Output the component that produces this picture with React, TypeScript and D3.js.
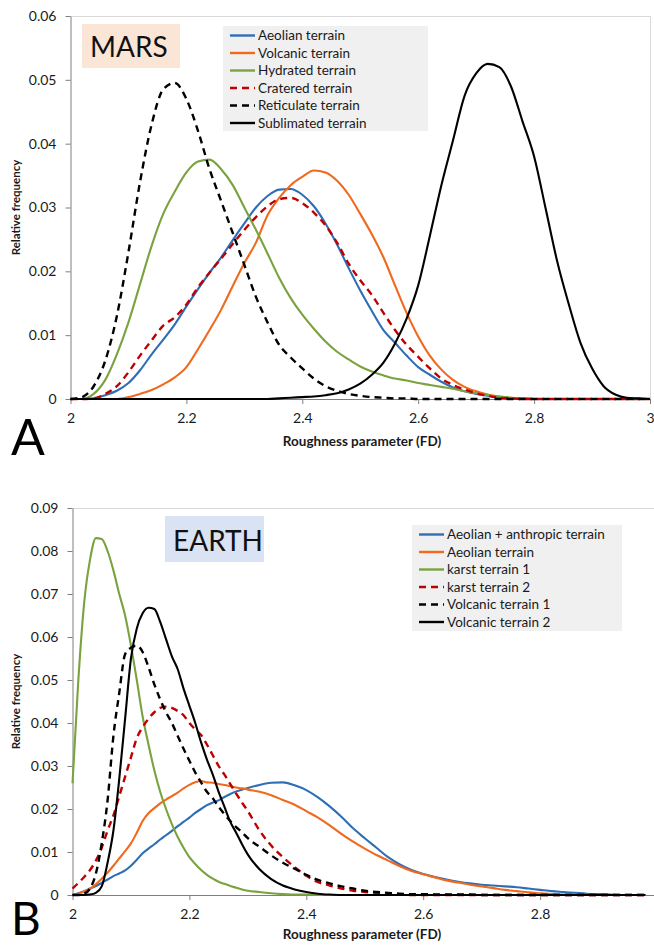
import * as d3 from 'd3';
import { useEffect, useRef } from 'react';

// ---- MARS panel (A) ----
const marsX = [
  2.0, 2.02, 2.04, 2.06, 2.08, 2.1, 2.12, 2.14, 2.16, 2.18,
  2.2, 2.22, 2.24, 2.26, 2.28, 2.3, 2.32, 2.34, 2.36, 2.38,
  2.4, 2.42, 2.44, 2.46, 2.48, 2.5, 2.52, 2.54, 2.56, 2.58,
  2.6, 2.62, 2.64, 2.66, 2.68, 2.7, 2.72, 2.74, 2.76, 2.78,
  2.8, 2.82, 2.84, 2.86, 2.88, 2.9, 2.92, 2.94, 2.96, 2.98,
  3.0,
];
const marsAeolian = [
  0, 0, 0.0001, 0.0006, 0.0013, 0.0025, 0.0045, 0.007, 0.0093, 0.0117,
  0.0145, 0.0172, 0.0198, 0.0222, 0.0249, 0.0275, 0.03, 0.0318, 0.0328, 0.0329,
  0.032, 0.0302, 0.0275, 0.0242, 0.0205, 0.017, 0.0138, 0.0108, 0.0088, 0.0068,
  0.005, 0.0038, 0.0027, 0.0018, 0.0012, 0.0008, 0.0005, 0.0003, 0.0001, 0,
  0, 0, 0, 0, 0, 0, 0, 0, 0, 0,
  0,
];
const marsVolcanic = [
  0, 0, 0, 0, 0, 0.0003, 0.0008, 0.0014, 0.0023, 0.0034,
  0.005, 0.0078, 0.0108, 0.014, 0.0177, 0.0213, 0.0245, 0.0288, 0.0315, 0.0335,
  0.0348, 0.0358, 0.0355, 0.0342, 0.032, 0.029, 0.0258, 0.0222, 0.0178, 0.0135,
  0.0098, 0.0068, 0.0046, 0.003, 0.0019, 0.0012, 0.0007, 0.0004, 0.0002, 0.0001,
  0, 0, 0, 0, 0, 0, 0, 0, 0, 0,
  0,
];
const marsHydrated = [
  0, 0, 0.0008, 0.003, 0.007, 0.012, 0.018, 0.024, 0.029, 0.0325,
  0.0355, 0.0372, 0.0375, 0.036, 0.0335, 0.03, 0.0265, 0.0228, 0.019, 0.0158,
  0.0132, 0.011, 0.009, 0.0074, 0.0062, 0.0051, 0.0043, 0.0037, 0.0032, 0.0029,
  0.0025, 0.0022, 0.0019, 0.0016, 0.0012, 0.0009, 0.0006, 0.0004, 0.0002, 0.0001,
  0, 0, 0, 0, 0, 0, 0, 0, 0, 0,
  0,
];
const marsCratered = [
  0, 0, 0.0001, 0.0008, 0.002, 0.0042, 0.0068, 0.0092, 0.0115, 0.0128,
  0.0148, 0.0175, 0.0198, 0.022, 0.0243, 0.0265, 0.0285, 0.0302, 0.0313, 0.0315,
  0.0307, 0.0292, 0.0272, 0.0245, 0.0212, 0.0186, 0.0163, 0.0135, 0.0108, 0.0085,
  0.0066, 0.0048, 0.0032, 0.0022, 0.0015, 0.0009, 0.0005, 0.0002, 0.0001, 0,
  0, 0, 0, 0, 0, 0, 0, 0, 0, 0,
  0,
];
const marsReticulate = [
  0, 0.0003, 0.002, 0.006, 0.013, 0.023, 0.034, 0.043, 0.0485, 0.0495,
  0.047, 0.042, 0.036, 0.031, 0.026, 0.021, 0.016, 0.012, 0.0085, 0.0065,
  0.0048, 0.0032, 0.002, 0.0013, 0.0008, 0.0005, 0.0003, 0.0002, 0.0001, 0.0001,
  0, 0, 0, 0, 0, 0, 0, 0, 0, 0,
  0, 0, 0, 0, 0, 0, 0, 0, 0, 0,
  0,
];
const marsSublimated = [
  0, 0, 0, 0, 0, 0, 0, 0, 0, 0,
  0, 0, 0, 0, 0, 0, 0, 0, 0.0001, 0.0002,
  0.0003, 0.0004, 0.0006, 0.0009, 0.0015, 0.0024, 0.0038, 0.0057, 0.0087, 0.0126,
  0.0178, 0.0255, 0.0335, 0.0405, 0.0475, 0.051, 0.0525, 0.052, 0.049, 0.0435,
  0.038, 0.0298, 0.0215, 0.0148, 0.0088, 0.0048, 0.002, 0.0007, 0.0002, 0.0001,
  0,
];
const marsYTicks = [0, 0.01, 0.02, 0.03, 0.04, 0.05, 0.06];
const marsXTicks = [2, 2.2, 2.4, 2.6, 2.8, 3];

// ---- EARTH panel (B) ----
const earthX = [
  2.0, 2.01, 2.02, 2.03, 2.04, 2.05, 2.06, 2.07, 2.08, 2.09,
  2.1, 2.11, 2.12, 2.13, 2.14, 2.15, 2.16, 2.17, 2.18, 2.19,
  2.2, 2.21, 2.22, 2.23, 2.24, 2.25, 2.26, 2.27, 2.28, 2.29,
  2.3,
  2.32, 2.34, 2.36, 2.38, 2.4, 2.42, 2.44, 2.46, 2.48, 2.5,
  2.52, 2.54, 2.56, 2.58, 2.6, 2.62, 2.64, 2.66, 2.68, 2.7,
  2.72, 2.74, 2.76, 2.78, 2.8, 2.82, 2.84, 2.86, 2.88, 2.9,
  2.92, 2.94, 2.96, 2.98,
];
const earthAeolianAnthropic = [
  0, 0.0004, 0.0009, 0.0015, 0.0021, 0.0028, 0.0036, 0.0044, 0.005, 0.0057,
  0.0068, 0.0082, 0.0097, 0.0108, 0.0118, 0.0129, 0.0139, 0.0149, 0.016, 0.017,
  0.018, 0.0191, 0.02, 0.0209, 0.0215, 0.022, 0.0228, 0.0235, 0.0241, 0.0245,
  0.0249,
  0.0256, 0.0261, 0.0262, 0.0255, 0.0244, 0.0227, 0.0206, 0.0182, 0.0155, 0.0132,
  0.011, 0.0088, 0.0071, 0.0058, 0.0049, 0.0042, 0.0036, 0.0031, 0.0027, 0.0024,
  0.0022, 0.002, 0.0018, 0.0015, 0.0012, 0.0009, 0.0007, 0.0005, 0.0003, 0.0002,
  0.0001, 0, 0, 0,
];
const earthAeolian = [
  0, 0.0003, 0.0008, 0.0014, 0.0025, 0.0038, 0.0052, 0.0068, 0.0085, 0.0102,
  0.012, 0.0145, 0.0172, 0.019, 0.0202, 0.0213, 0.0222, 0.023, 0.0238, 0.0248,
  0.0256, 0.0262, 0.0265, 0.0262, 0.0261, 0.0258, 0.0256, 0.0253, 0.025, 0.0248,
  0.0245,
  0.024, 0.0232, 0.0221, 0.021, 0.0195, 0.018, 0.0162, 0.0142, 0.0124, 0.0108,
  0.0093, 0.008, 0.0067, 0.0056, 0.0048, 0.0041, 0.0034, 0.0029, 0.0024, 0.002,
  0.0016, 0.0012, 0.0009, 0.0006, 0.0004, 0.0002, 0.0001, 0.0001, 0, 0,
  0, 0, 0, 0,
];
const earthKarst1 = [
  0.026, 0.05, 0.068, 0.078, 0.083, 0.0828, 0.08, 0.0755, 0.07, 0.065,
  0.058, 0.05, 0.0415, 0.035, 0.029, 0.024, 0.02, 0.0165, 0.0135, 0.011,
  0.0088, 0.0072, 0.0058, 0.0047, 0.0038, 0.0031, 0.0026, 0.0021, 0.0017, 0.0013,
  0.001,
  0.0007, 0.0004, 0.0002, 0.0001, 0.0001, 0, 0, 0, 0, 0,
  0, 0, 0, 0, 0, 0, 0, 0, 0, 0,
  0, 0, 0, 0, 0, 0, 0, 0, 0, 0,
  0, 0, 0, 0,
];
const earthKarst2 = [
  0.0015, 0.0028, 0.0042, 0.0058, 0.008, 0.011, 0.015, 0.0185, 0.023, 0.0275,
  0.032, 0.0365, 0.039, 0.041, 0.0425, 0.0435, 0.0438, 0.0435, 0.0428, 0.0418,
  0.04, 0.0385, 0.0372, 0.035, 0.0325, 0.03, 0.028, 0.0258, 0.0236, 0.0215,
  0.0195,
  0.015, 0.0115, 0.0088, 0.0065, 0.0045, 0.003, 0.0022, 0.0015, 0.001, 0.0007,
  0.0004, 0.0002, 0.0001, 0, 0, 0, 0, 0, 0, 0,
  0, 0, 0, 0, 0, 0, 0, 0, 0, 0,
  0, 0, 0, 0,
];
const earthVolcanic1 = [
  0, 0, 0.0003, 0.0015, 0.005, 0.012, 0.022, 0.037, 0.047, 0.056,
  0.0575, 0.058, 0.0565, 0.053, 0.049, 0.0455, 0.0425, 0.04, 0.037, 0.034,
  0.0312, 0.0285, 0.0262, 0.024, 0.0225, 0.0205, 0.0188, 0.0172, 0.0158, 0.0146,
  0.0132,
  0.0112, 0.0092, 0.0075, 0.0061, 0.0047, 0.0035, 0.0027, 0.002, 0.0015, 0.001,
  0.0007, 0.0005, 0.0003, 0.0002, 0.0002, 0.0001, 0.0001, 0.0001, 0.0001, 0,
  0, 0, 0, 0, 0, 0, 0, 0, 0, 0,
  0, 0, 0, 0,
];
const earthVolcanic2 = [
  0, 0, 0, 0.0001, 0.0005, 0.002, 0.0075, 0.015, 0.027, 0.041,
  0.055, 0.062, 0.0655, 0.0668, 0.0665, 0.0635, 0.0595, 0.0555, 0.0525, 0.048,
  0.044, 0.04, 0.0355, 0.0315, 0.028, 0.024, 0.0205, 0.017, 0.0145, 0.0118,
  0.0094,
  0.006, 0.0037, 0.0022, 0.0013, 0.0007, 0.0003, 0.0001, 0, 0, 0,
  0, 0, 0, 0, 0, 0, 0, 0, 0, 0,
  0, 0, 0, 0, 0, 0, 0, 0, 0, 0,
  0, 0, 0, 0,
];
const earthYTicks = [0, 0.01, 0.02, 0.03, 0.04, 0.05, 0.06, 0.07, 0.08, 0.09];
const earthXTicks = [2, 2.2, 2.4, 2.6, 2.8];

const BLUE = '#2e6eb5';
const ORANGE = '#f0691d';
const GREEN = '#7aa23e';
const RED = '#c00000';
const BLACK = '#000000';
const FONT = 'Lato, "Open Sans", sans-serif';

const marsSeries = [
  { name: 'Aeolian terrain', values: marsAeolian, color: BLUE, dashed: false },
  { name: 'Volcanic terrain', values: marsVolcanic, color: ORANGE, dashed: false },
  { name: 'Hydrated terrain', values: marsHydrated, color: GREEN, dashed: false },
  { name: 'Cratered terrain', values: marsCratered, color: RED, dashed: true },
  { name: 'Reticulate terrain', values: marsReticulate, color: BLACK, dashed: true },
  { name: 'Sublimated terrain', values: marsSublimated, color: BLACK, dashed: false },
];

const earthSeries = [
  { name: 'Aeolian + anthropic terrain', values: earthAeolianAnthropic, color: BLUE, dashed: false },
  { name: 'Aeolian terrain', values: earthAeolian, color: ORANGE, dashed: false },
  { name: 'karst terrain 1', values: earthKarst1, color: GREEN, dashed: false },
  { name: 'karst terrain 2', values: earthKarst2, color: RED, dashed: true },
  { name: 'Volcanic terrain 1', values: earthVolcanic1, color: BLACK, dashed: true },
  { name: 'Volcanic terrain 2', values: earthVolcanic2, color: BLACK, dashed: false },
];

const drawPanel = (svg, p) => {
  const x = d3.scaleLinear().domain([2, 3]).range([p.left, p.right]);
  const y = d3.scaleLinear().domain([0, p.yMax]).range([p.bottom, p.top]);
  const g = svg.append('g');

  // plot area border (top + right)
  g.append('line')
    .attr('x1', p.left).attr('x2', p.frameRight)
    .attr('y1', p.top + 0.5).attr('y2', p.top + 0.5)
    .attr('stroke', '#d9d9d9');
  if (p.rightBorder) {
    g.append('line')
      .attr('x1', p.frameRight).attr('x2', p.frameRight)
      .attr('y1', p.top).attr('y2', p.bottom)
      .attr('stroke', '#d9d9d9');
  }

  const yAxis = g.append('g')
    .attr('transform', 'translate(' + p.left + ',0)')
    .call(d3.axisLeft(y).tickValues(p.yTicks).tickSize(5).tickSizeOuter(0).tickPadding(9)
      .tickFormat((d) => (d === 0 ? '0' : d3.format('.2f')(d))));
  const xAxis = g.append('g')
    .attr('transform', 'translate(0,' + p.bottom + ')')
    .call(d3.axisBottom(x).tickValues(p.xTicks).tickSize(5).tickSizeOuter(0).tickPadding(9)
      .tickFormat((d) => String(+(+d).toFixed(1))));
  [yAxis, xAxis].forEach((a) => {
    a.select('.domain').attr('stroke', '#7f7f7f');
    a.selectAll('.tick line').attr('stroke', '#7f7f7f');
    a.selectAll('.tick text')
      .attr('font-family', FONT)
      .attr('font-size', 14)
      .attr('fill', '#1a1a1a');
  });

  // panel title box (MARS / EARTH)
  g.append('rect')
    .attr('x', p.tag.x).attr('y', p.tag.y)
    .attr('width', p.tag.w).attr('height', p.tag.h)
    .attr('fill', p.tag.fill);
  g.append('text')
    .attr('x', p.tag.x + 8).attr('y', p.tag.y + p.tag.h - 11)
    .attr('font-family', FONT).attr('font-size', 28)
    .attr('fill', '#111')
    .text(p.tag.text);

  // curves
  const line = d3.line()
    .x((d, i) => x(p.xs[i]))
    .y((d) => y(d))
    .curve(d3.curveMonotoneX);
  p.series.forEach((s) => {
    g.append('path')
      .datum(s.values)
      .attr('d', line)
      .attr('fill', 'none')
      .attr('stroke', s.color)
      .attr('stroke-width', s.dashed ? 2.4 : 2.1)
      .attr('stroke-dasharray', s.dashed ? '7,5' : null)
      .attr('stroke-linejoin', 'round');
  });

  // legend
  const lg = g.append('g');
  lg.append('rect')
    .attr('x', p.legend.x).attr('y', p.legend.y)
    .attr('width', p.legend.w).attr('height', p.legend.h)
    .attr('fill', '#f0f0f0');
  p.series.forEach((s, i) => {
    const cy = p.legend.y + 9.5 + i * 17.5;
    lg.append('line')
      .attr('x1', p.legend.x + 7).attr('x2', p.legend.x + 32)
      .attr('y1', cy).attr('y2', cy)
      .attr('stroke', s.color)
      .attr('stroke-width', 2.4)
      .attr('stroke-dasharray', s.dashed ? '7,5' : null);
    lg.append('text')
      .attr('x', p.legend.x + 35).attr('y', cy)
      .attr('dy', '0.36em')
      .attr('font-family', FONT).attr('font-size', 13.5)
      .attr('fill', '#1a1a1a')
      .text(s.name);
  });

  // axis titles
  g.append('text')
    .attr('transform', 'translate(20,' + (p.top + p.bottom) / 2 + ') rotate(-90)')
    .attr('text-anchor', 'middle')
    .attr('font-family', FONT).attr('font-size', 11.5).attr('font-weight', 'bold')
    .attr('fill', '#1a1a1a')
    .text('Relative frequency');
  g.append('text')
    .attr('x', 362).attr('y', p.bottom + p.xTitleOffset)
    .attr('text-anchor', 'middle')
    .attr('font-family', FONT).attr('font-size', 13.5).attr('font-weight', 'bold')
    .attr('fill', '#1a1a1a')
    .text('Roughness parameter (FD)');

  // panel letter
  g.append('text')
    .attr('x', 11).attr('y', p.letterY)
    .attr('font-family', FONT).attr('font-size', p.letterSize)
    .attr('fill', '#000')
    .text(p.letter);
};

const App = () => {
  const ref = useRef(null);

  useEffect(() => {
    const svg = d3.select(ref.current);
    svg.selectAll('*').remove();

    drawPanel(svg, {
      xs: marsX, series: marsSeries,
      left: 70.5, right: 650, top: 16, bottom: 399, frameRight: 650.5, rightBorder: true,
      yMax: 0.06, yTicks: marsYTicks, xTicks: marsXTicks,
      tag: { x: 82, y: 24, w: 98, h: 44, fill: '#fbe5d6', text: 'MARS' },
      legend: { x: 223, y: 26, w: 205, h: 105 },
      xTitleOffset: 47, letter: 'A', letterY: 455, letterSize: 50,
    });

    drawPanel(svg, {
      xs: earthX, series: earthSeries,
      left: 72.5, right: 657, top: 508, bottom: 895, frameRight: 654, rightBorder: false,
      yMax: 0.09, yTicks: earthYTicks, xTicks: earthXTicks,
      tag: { x: 165, y: 516, w: 99, h: 46, fill: '#dae3f3', text: 'EARTH' },
      legend: { x: 412, y: 525, w: 210, h: 106 },
      xTitleOffset: 44, letter: 'B', letterY: 935, letterSize: 46,
    });
  }, []);

  return (
    <svg
      ref={ref}
      width={654}
      height={945}
      style={{ position: 'absolute', left: 0, top: 0, background: '#fff', display: 'block' }}
    />
  );
};

export default App;
